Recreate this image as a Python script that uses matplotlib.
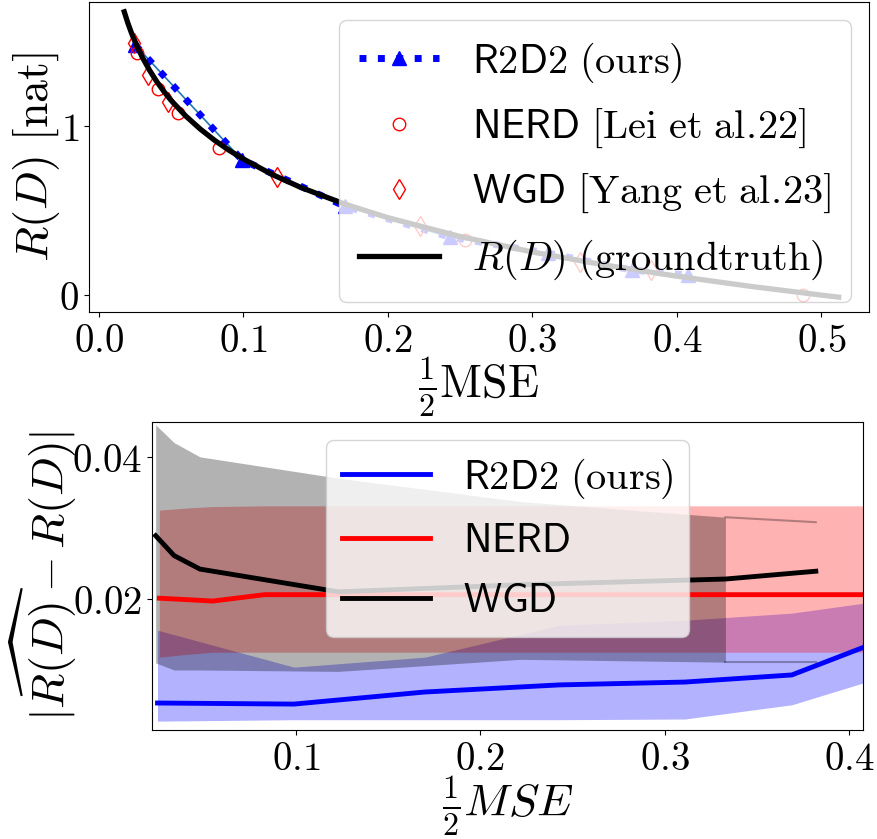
import matplotlib
matplotlib.use("Agg")
import matplotlib.pyplot as plt

plt.rcParams['mathtext.fontset'] = 'cm'
plt.rcParams['font.family'] = ['DejaVu Sans']

# ---------------- top panel data ----------------
gt_x = [0.0175, 0.02, 0.0225, 0.025, 0.03, 0.035, 0.04, 0.045, 0.05, 0.06, 0.07, 0.08, 0.09,
        0.1, 0.12, 0.14, 0.17, 0.2, 0.25, 0.3, 0.35, 0.4, 0.45, 0.5, 0.512]
gt_y = [1.676, 1.609, 1.550, 1.498, 1.407, 1.330, 1.263, 1.204, 1.151, 1.060, 0.983, 0.916, 0.857,
        0.805, 0.713, 0.636, 0.539, 0.458, 0.347, 0.255, 0.178, 0.112, 0.053, 0.0, -0.012]

r2d2_x = [0.025, 0.099, 0.170, 0.243, 0.311, 0.369, 0.408]
r2d2_y = [1.48, 0.80, 0.527, 0.343, 0.248, 0.148, 0.118]

nerd_x = [0.026, 0.041, 0.055, 0.083, 0.253, 0.487]
nerd_y = [1.43, 1.22, 1.08, 0.87, 0.325, 0.0]

wgd_x = [0.024, 0.034, 0.048, 0.123, 0.222, 0.333, 0.382]
wgd_y = [1.49, 1.30, 1.14, 0.70, 0.41, 0.195, 0.148]

top_xticks = [0.0, 0.1, 0.2, 0.3, 0.4, 0.5]
top_xticklabels = ['0.0', '0.1', '0.2', '0.3', '0.4', '0.5']
top_yticks = [0, 1]
top_yticklabels = ['0', '1']

# ---------------- bottom panel data ----------------
r2d2_err = [0.00535, 0.0052, 0.0069, 0.0079, 0.0083, 0.0093, 0.0132]
r2d2_lo = [0.0028, 0.0030, 0.0030, 0.0030, 0.0031, 0.0051, 0.0082]
r2d2_hi = [0.0156, 0.0104, 0.0118, 0.0163, 0.0170, 0.0180, 0.0194]

nerd_err = [0.0201, 0.0199, 0.0197, 0.0206, 0.0206, 0.0206]
nerd_lo = [0.0118, 0.0122, 0.0125, 0.0125, 0.0125, 0.0125]
nerd_hi = [0.0325, 0.0328, 0.0330, 0.0331, 0.0331, 0.0331]

wgd_err = [0.0289, 0.0261, 0.0242, 0.0210, 0.0220, 0.0228, 0.0239]
wgd_lo = [0.0110, 0.0100, 0.0100, 0.0098, 0.0115, 0.0111, 0.0111]
wgd_hi = [0.0445, 0.0420, 0.0400, 0.0370, 0.0337, 0.0315, 0.0308]

bot_xticks = [0.1, 0.2, 0.3, 0.4]
bot_xticklabels = ['0.1', '0.2', '0.3', '0.4']
bot_yticks = [0.02, 0.04]
bot_yticklabels = ['0.02', '0.04']

TICK_FS = 28
LEG_FS = 29
LAB_FS = 33

fig = plt.figure(figsize=(8.78, 8.39), dpi=100)

# ---------------- top ----------------
ax1 = fig.add_axes([0.1014, 0.6281, 0.8884, 0.3695])
ax1.plot(r2d2_x, r2d2_y, color='C0', lw=1.2, zorder=2)
ax1.plot(r2d2_x, r2d2_y, color='blue', ls=':', lw=5, marker='^', ms=10,
         label=r'$\mathsf{R2D2}\ \mathrm{(ours)}$', zorder=3)
ax1.plot(nerd_x, nerd_y, ls='none', marker='o', ms=9, mfc='none', mec='red', mew=1.0,
         label=r'$\mathsf{NERD}\ \mathrm{[Lei\ et\ al.\!22]}$', zorder=4)
ax1.plot(wgd_x, wgd_y, ls='none', marker='d', ms=10, mfc='none', mec='red', mew=1.0,
         label=r'$\mathsf{WGD}\ \mathrm{[Yang\ et\ al.\!23]}$', zorder=4)
ax1.plot(gt_x, gt_y, color='black', lw=3.8, label=r'$R(D)\ \mathrm{(groundtruth)}$', zorder=5)
ax1.set_xlim(-0.0069, 0.533)
ax1.set_ylim(-0.10, 1.734)
ax1.set_xticks(top_xticks)
ax1.set_xticklabels(['$' + t + '$' for t in top_xticklabels], fontsize=TICK_FS)
ax1.set_yticks(top_yticks)
ax1.set_yticklabels(['$' + t + '$' for t in top_yticklabels], fontsize=TICK_FS)
ax1.set_xlabel(r'$\frac{1}{2}\mathrm{MSE}$', fontsize=LAB_FS, labelpad=-3)
ax1.set_ylabel(r'$R(D)\ \mathrm{[nat]}$', fontsize=LAB_FS, labelpad=-2)
ax1.legend(loc='upper right', fontsize=LEG_FS, handlelength=2.0, borderaxespad=0.45,
           labelspacing=0.55, borderpad=0.5)

# ---------------- bottom ----------------
ax2 = fig.add_axes([0.1731, 0.1299, 0.8098, 0.3671])
ax2.plot(r2d2_x, r2d2_err, color='blue', lw=3.5, label=r'$\mathsf{R2D2}\ \mathrm{(ours)}$')
ax2.fill_between(r2d2_x, r2d2_lo, r2d2_hi, color='blue', alpha=0.3, lw=0)
ax2.plot(nerd_x, nerd_err, color='red', lw=3.5, label=r'$\mathsf{NERD}$')
ax2.fill_between(nerd_x, nerd_lo, nerd_hi, color='red', alpha=0.3, lw=0)
ax2.plot(wgd_x, wgd_err, color='black', lw=3.5, label=r'$\mathsf{WGD}$')
ax2.fill_between(wgd_x, wgd_lo, wgd_hi, where=[True] * 6 + [False], color='black', alpha=0.3, lw=0)
ax2.plot(wgd_x[5:], wgd_hi[5:], color='black', alpha=0.3, lw=1.5)
ax2.plot(wgd_x[5:], wgd_lo[5:], color='black', alpha=0.3, lw=1.5)
ax2.set_xlim(0.022, 0.4076)
ax2.set_ylim(0.00155, 0.0449)
ax2.set_xticks(bot_xticks)
ax2.set_xticklabels(['$' + t + '$' for t in bot_xticklabels], fontsize=TICK_FS)
ax2.set_yticks(bot_yticks)
ax2.set_yticklabels(['$' + t + '$' for t in bot_yticklabels], fontsize=TICK_FS)
ax2.set_xlabel(r'$\frac{1}{2}MSE$', fontsize=LAB_FS, labelpad=-2)
ax2.set_ylabel(r'$|\widehat{R(D)}-R(D)|$', fontsize=LAB_FS, labelpad=-5)
ax2.legend(loc='upper center', fontsize=LEG_FS, handlelength=2.2, borderaxespad=0.45,
           labelspacing=0.5)

fig.savefig('out.png', dpi=100)
